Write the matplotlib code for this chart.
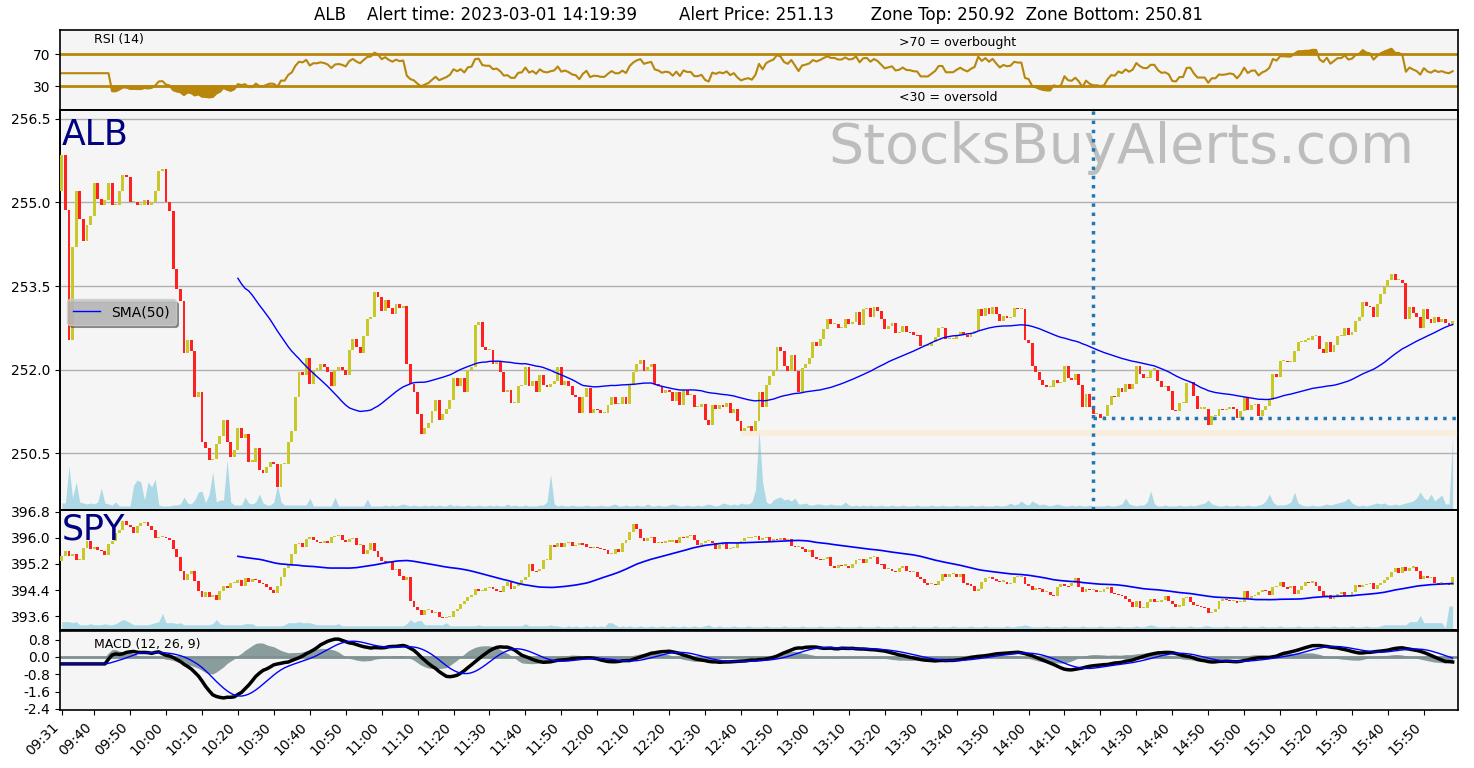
import numpy as np
import pandas as pd
import matplotlib
matplotlib.use("Agg")
import matplotlib.pyplot as plt

# ---- data: 1 minute bars, 09:31 .. 15:58 ----
session_start = "2023-03-01 09:31"

alb_first_open = 255.20
alb_close = [
    255.86, 254.87, 252.54, 254.20, 255.20, 254.70, 254.30, 254.60, 254.75, 255.35,
    255.07, 254.95, 255.05, 255.35, 254.96, 254.96, 255.20, 255.50, 255.45, 255.00,
    255.00, 254.95, 254.95, 255.05, 254.95, 255.00, 255.20, 255.57, 255.60, 255.00,
    254.85, 253.80, 253.45, 253.23, 252.30, 252.53, 252.33, 251.50, 251.60, 250.70,
    250.60, 250.37, 250.40, 250.66, 250.80, 251.10, 250.70, 250.43, 250.55, 250.95,
    250.78, 250.85, 250.35, 250.35, 250.60, 250.20, 250.15, 250.26, 250.34, 250.30,
    249.90, 250.30, 250.30, 250.70, 250.90, 251.50, 251.95, 251.90, 252.20, 251.75,
    252.00, 252.00, 252.10, 252.05, 251.95, 251.70, 252.00, 252.05, 252.00, 251.90,
    252.35, 252.55, 252.40, 252.30, 252.60, 252.90, 252.95, 253.40, 253.30, 253.05,
    253.25, 253.10, 253.00, 253.18, 253.10, 253.15, 252.10, 251.75, 251.60, 251.20,
    250.85, 250.95, 251.05, 251.25, 251.45, 251.10, 251.20, 251.30, 251.45, 251.85,
    251.70, 251.85, 251.60, 252.00, 252.05, 252.80, 252.85, 252.40, 252.35, 252.35,
    252.10, 252.15, 251.95, 251.60, 251.63, 251.40, 251.40, 251.70, 251.73, 252.05,
    251.70, 251.80, 251.60, 251.90, 251.73, 251.68, 251.75, 251.80, 252.05, 251.73,
    251.80, 251.70, 251.55, 251.50, 251.22, 251.50, 251.67, 251.22, 251.30, 251.28,
    251.22, 251.22, 251.37, 251.50, 251.38, 251.38, 251.50, 251.38, 251.73, 251.95,
    252.10, 252.18, 251.98, 252.05, 252.10, 251.75, 251.70, 251.58, 251.63, 251.60,
    251.43, 251.60, 251.37, 251.63, 251.55, 251.55, 251.33, 251.33, 251.38, 251.10,
    251.00, 251.37, 251.30, 251.37, 251.32, 251.40, 251.22, 251.30, 251.07, 250.90,
    250.95, 250.98, 250.90, 251.07, 251.60, 251.33, 251.73, 251.88, 252.00, 252.40,
    252.33, 252.06, 251.97, 252.27, 251.97, 251.60, 252.03, 252.10, 252.20, 252.50,
    252.42, 252.55, 252.73, 252.90, 252.82, 252.82, 252.75, 252.75, 252.90, 252.82,
    252.85, 253.03, 252.80, 253.08, 253.10, 252.95, 253.13, 253.05, 252.90, 252.73,
    252.78, 252.83, 252.65, 252.68, 252.78, 252.68, 252.67, 252.63, 252.62, 252.42,
    252.42, 252.42, 252.50, 252.58, 252.75, 252.75, 252.55, 252.55, 252.55, 252.62,
    252.68, 252.62, 252.58, 252.65, 252.70, 253.08, 252.97, 253.10, 253.00, 253.13,
    253.00, 252.87, 252.97, 252.93, 252.95, 253.10, 253.08, 253.08, 252.54, 252.48,
    252.06, 251.95, 251.82, 251.73, 251.68, 251.68, 251.82, 251.76, 251.78, 252.06,
    251.85, 251.82, 251.92, 251.72, 251.32, 251.56, 251.32, 251.20, 251.20, 251.14,
    251.16, 251.37, 251.53, 251.50, 251.67, 251.60, 251.75, 251.65, 251.74, 252.06,
    251.93, 251.85, 251.85, 252.00, 252.00, 251.80, 251.68, 251.70, 251.62, 251.28,
    251.25, 251.40, 251.40, 251.76, 251.77, 251.52, 251.30, 251.30, 251.30, 251.00,
    251.16, 251.16, 251.30, 251.28, 251.30, 251.33, 251.30, 251.13, 251.26, 251.50,
    251.28, 251.37, 251.38, 251.17, 251.28, 251.34, 251.46, 251.92, 251.86, 252.15,
    252.15, 252.14, 252.14, 252.33, 252.50, 252.50, 252.54, 252.54, 252.60, 252.60,
    252.37, 252.30, 252.50, 252.32, 252.45, 252.60, 252.60, 252.75, 252.63, 252.68,
    252.88, 252.95, 253.22, 253.15, 253.13, 252.95, 253.17, 253.35, 253.48, 253.60,
    253.72, 253.60, 253.60, 253.55, 252.90, 253.12, 253.02, 252.94, 252.75, 253.08,
    252.90, 252.83, 252.95, 252.86, 252.90, 252.83, 252.80, 252.88,
]
alb_vol = [
    7, 7, 44, 12, 28, 8, 7, 6, 7, 6, 8, 22, 7, 6, 5, 8, 4, 4, 4, 4,
    25, 30, 28, 10, 28, 23, 31, 5, 4, 4, 4, 5, 5, 6, 13, 7, 6, 10, 18, 19,
    7, 16, 38, 8, 10, 10, 50, 8, 5, 5, 5, 13, 7, 6, 8, 16, 7, 5, 5, 8,
    25, 8, 5, 5, 5, 5, 5, 5, 5, 12, 4, 4, 4, 4, 4, 4, 13, 4, 4, 4,
    4, 4, 4, 4, 4, 11, 4, 4, 4, 4, 5, 4, 5, 4, 5, 6, 5, 4, 5, 4,
    4, 5, 4, 5, 4, 5, 4, 4, 6, 4, 5, 4, 4, 5, 4, 4, 5, 4, 4, 5,
    4, 5, 4, 4, 6, 4, 5, 4, 4, 5, 4, 4, 4, 5, 5, 8, 36, 6, 4, 5,
    4, 4, 5, 4, 4, 4, 5, 4, 4, 4, 5, 4, 4, 5, 6, 4, 4, 5, 4, 4,
    5, 4, 4, 6, 4, 4, 5, 4, 4, 5, 6, 5, 4, 4, 5, 4, 4, 5, 4, 5,
    6, 5, 4, 5, 7, 6, 5, 6, 5, 7, 6, 6, 8, 20, 80, 28, 8, 6, 10, 12,
    13, 10, 11, 9, 12, 6, 6, 7, 5, 5, 6, 6, 5, 5, 6, 5, 5, 5, 8, 5,
    4, 5, 4, 5, 4, 5, 4, 4, 5, 4, 4, 5, 4, 4, 5, 4, 4, 4, 5, 4,
    4, 4, 5, 4, 4, 5, 4, 4, 4, 5, 4, 4, 4, 5, 4, 4, 5, 4, 4, 4,
    5, 4, 4, 5, 7, 5, 6, 9, 6, 5, 9, 7, 5, 6, 5, 4, 5, 6, 5, 4,
    4, 5, 4, 5, 4, 4, 5, 4, 4, 4, 4, 5, 4, 4, 5, 6, 12, 6, 5, 4,
    5, 5, 8, 19, 6, 4, 4, 5, 4, 4, 4, 5, 4, 4, 5, 4, 5, 6, 7, 10,
    6, 5, 4, 4, 5, 4, 4, 5, 4, 4, 5, 4, 4, 5, 6, 9, 16, 8, 5, 5,
    5, 6, 8, 18, 7, 5, 4, 4, 5, 4, 4, 5, 6, 5, 6, 7, 8, 9, 12, 7,
    5, 4, 5, 4, 5, 6, 7, 6, 7, 5, 5, 6, 5, 6, 7, 8, 9, 12, 18, 12,
    10, 16, 9, 12, 15, 6, 6, 73,
]

spy_first_open = 395.30
spy_close = [
    395.45, 395.60, 395.45, 395.52, 395.32, 395.32, 395.68, 395.90, 395.67, 395.72,
    395.62, 395.60, 395.48, 395.80, 395.90, 396.16, 396.23, 396.52, 396.40, 396.34,
    396.16, 396.37, 396.47, 396.50, 396.37, 396.23, 396.00, 396.03, 396.03, 396.00,
    395.93, 395.65, 395.40, 394.99, 394.70, 394.90, 394.97, 394.67, 394.38, 394.20,
    394.33, 394.17, 394.25, 394.10, 394.38, 394.53, 394.46, 394.60, 394.63, 394.70,
    394.53, 394.77, 394.66, 394.73, 394.70, 394.63, 394.58, 394.48, 394.40, 394.30,
    394.53, 394.79, 395.09, 395.20, 395.50, 395.80, 395.86, 395.72, 395.96, 396.03,
    395.93, 395.89, 395.86, 395.90, 395.86, 396.03, 396.06, 396.09, 395.93, 395.89,
    395.96, 396.01, 395.78, 395.79, 395.50, 395.62, 395.86, 395.60, 395.40, 395.30,
    395.25, 395.25, 395.00, 395.04, 394.84, 394.70, 394.80, 394.07, 393.89, 393.77,
    393.64, 393.77, 393.79, 393.68, 393.71, 393.56, 393.54, 393.56, 393.58, 393.74,
    393.82, 393.97, 394.07, 394.20, 394.25, 394.43, 394.38, 394.38, 394.46, 394.48,
    394.43, 394.38, 394.33, 394.53, 394.66, 394.43, 394.53, 394.60, 394.70, 394.80,
    395.21, 394.99, 394.97, 395.04, 395.32, 395.32, 395.79, 395.72, 395.86, 395.72,
    395.83, 395.88, 395.76, 395.79, 395.83, 395.81, 395.72, 395.68, 395.72, 395.70,
    395.65, 395.62, 395.50, 395.52, 395.65, 395.58, 395.86, 395.94, 396.19, 396.42,
    396.27, 395.99, 395.91, 395.99, 396.03, 395.83, 395.89, 395.86, 395.89, 395.89,
    395.93, 395.86, 396.03, 396.01, 396.06, 396.09, 395.93, 395.79, 395.86, 395.91,
    395.91, 395.83, 395.65, 395.79, 395.86, 395.65, 395.70, 395.70, 395.86, 395.91,
    395.99, 396.01, 396.03, 396.06, 395.93, 396.01, 396.03, 395.91, 395.96, 395.93,
    396.01, 395.93, 395.96, 395.76, 395.72, 395.72, 395.65, 395.58, 395.62, 395.40,
    395.35, 395.32, 395.35, 395.40, 395.14, 395.07, 395.17, 395.15, 395.15, 395.07,
    395.21, 395.32, 395.35, 395.24, 395.35, 395.40, 395.42, 395.21, 395.19, 395.04,
    395.04, 394.99, 394.94, 395.07, 395.14, 394.99, 394.94, 394.94, 394.80, 394.73,
    394.60, 394.58, 394.58, 394.56, 394.68, 394.89, 394.81, 394.89, 394.89, 394.79,
    394.89, 394.60, 394.58, 394.53, 394.38, 394.43, 394.66, 394.77, 394.81, 394.74,
    394.68, 394.66, 394.66, 394.58, 394.62, 394.79, 394.79, 394.79, 394.58, 394.53,
    394.40, 394.46, 394.43, 394.33, 394.33, 394.26, 394.22, 394.48, 394.58, 394.53,
    394.52, 394.63, 394.77, 394.48, 394.33, 394.43, 394.40, 394.40, 394.33, 394.33,
    394.43, 394.48, 394.30, 394.28, 394.25, 394.22, 394.12, 394.02, 393.89, 394.05,
    393.85, 393.85, 394.02, 394.12, 394.02, 394.04, 394.09, 394.22, 394.07, 393.97,
    393.89, 393.92, 394.15, 394.17, 394.02, 393.95, 393.92, 393.89, 393.85, 393.70,
    393.71, 393.82, 394.07, 394.12, 394.09, 394.05, 394.05, 394.02, 394.04, 394.36,
    394.15, 394.22, 394.25, 394.33, 394.40, 394.38, 394.25, 394.48, 394.53, 394.66,
    394.48, 394.46, 394.53, 394.28, 394.40, 394.53, 394.66, 394.63, 394.66, 394.53,
    394.36, 394.22, 394.25, 394.12, 394.22, 394.29, 394.33, 394.22, 394.25, 394.33,
    394.56, 394.48, 394.56, 394.58, 394.60, 394.43, 394.56, 394.60, 394.70, 394.81,
    394.94, 395.07, 394.91, 395.11, 394.99, 395.09, 395.11, 394.99, 394.73, 394.84,
    394.77, 394.79, 394.63, 394.60, 394.63, 394.60, 394.56, 394.79,
]
spy_vol = [
    8, 8, 8, 7, 8, 5, 5, 5, 6, 5, 5, 5, 6, 5, 5, 6, 8, 10, 9, 7,
    5, 5, 5, 5, 5, 6, 7, 8, 16, 7, 7, 7, 6, 7, 5, 5, 5, 5, 5, 5,
    5, 5, 6, 10, 6, 5, 5, 5, 5, 5, 5, 6, 6, 6, 4, 4, 4, 4, 4, 4,
    4, 4, 5, 7, 7, 7, 8, 7, 7, 7, 6, 5, 5, 5, 5, 5, 5, 6, 4, 4,
    4, 4, 4, 4, 4, 4, 4, 4, 4, 4, 4, 4, 4, 4, 4, 4, 6, 10, 7, 9,
    9, 5, 5, 5, 5, 5, 5, 7, 4, 4, 4, 4, 4, 4, 4, 4, 5, 4, 4, 4,
    4, 4, 4, 4, 4, 4, 4, 4, 4, 6, 4, 4, 4, 4, 4, 4, 5, 4, 4, 3,
    3, 4, 3, 4, 3, 3, 4, 3, 4, 3, 4, 3, 7, 7, 5, 3, 4, 3, 4, 3,
    3, 4, 3, 3, 4, 3, 3, 4, 3, 3, 4, 3, 3, 4, 3, 3, 4, 3, 3, 4,
    5, 3, 3, 4, 3, 3, 3, 4, 3, 3, 3, 4, 3, 3, 3, 3, 4, 3, 3, 3,
    3, 4, 3, 3, 3, 3, 4, 3, 3, 3, 3, 4, 3, 3, 3, 3, 4, 3, 3, 3,
    3, 3, 4, 3, 3, 3, 3, 4, 3, 3, 3, 3, 4, 3, 3, 3, 3, 4, 3, 3,
    3, 3, 3, 4, 3, 3, 3, 3, 4, 3, 3, 3, 3, 4, 3, 3, 3, 4, 3, 3,
    3, 3, 3, 4, 3, 3, 4, 4, 5, 4, 3, 3, 3, 3, 4, 3, 3, 3, 3, 4,
    3, 3, 3, 3, 4, 3, 3, 3, 3, 4, 3, 3, 3, 3, 4, 3, 3, 3, 3, 4,
    3, 3, 4, 5, 4, 3, 3, 3, 3, 4, 3, 3, 3, 3, 4, 3, 3, 3, 4, 4,
    3, 3, 3, 3, 4, 3, 3, 3, 3, 4, 3, 3, 3, 3, 4, 3, 3, 3, 3, 4,
    3, 3, 3, 3, 4, 3, 3, 3, 3, 4, 3, 3, 3, 3, 4, 3, 3, 3, 3, 4,
    3, 3, 3, 4, 3, 3, 3, 4, 5, 5, 5, 5, 5, 5, 5, 8, 8, 8, 14, 7,
    7, 7, 7, 7, 7, 2, 23, 23,
]

alert_bar = 287
alert_price = 251.13
zone_top = 250.92
zone_bottom = 250.81
zone_start_bar = 189
rsi_warmup = 46
macd_warmup = -0.32

title = ("ALB    Alert time: 2023-03-01 14:19:39        Alert Price: 251.13"
         "       Zone Top: 250.92  Zone Bottom: 250.81")

UP = "#c8c828"
DOWN = "#ff2020"
BG = "#f5f5f5"
GOLD = "#b8860b"

alb = pd.Series(alb_close)
spy = pd.Series(spy_close)
n = len(alb)
x = np.arange(n)
times = pd.date_range(session_start, periods=n, freq="min")


def draw_candles(ax, first_open, closes, min_h):
    c = np.asarray(closes)
    o = np.concatenate([[first_open], c[:-1]])
    body = c - o
    body = np.where(np.abs(body) < min_h, np.where(body < 0, -min_h, min_h), body)
    colors = np.where(c >= o, UP, DOWN)
    ax.bar(x, body, bottom=o, width=0.8, color=colors, linewidth=0, zorder=3)


def add_volume(ax, vol):
    axv = ax.twinx()
    axv.fill_between(x, 0, vol, color="lightblue", linewidth=0)
    axv.set_ylim(0, max(vol) * 5)
    axv.set_yticks([])
    axv.patch.set_visible(True)
    axv.set_facecolor(BG)
    ax.set_zorder(axv.get_zorder() + 1)
    ax.patch.set_visible(False)
    for s in axv.spines.values():
        s.set_linewidth(1.2)
    return axv


# indicators: Wilder RSI, MACD built from simple moving averages
delta = alb.diff()
gain = delta.clip(lower=0).ewm(alpha=1 / 14, adjust=False, min_periods=14).mean()
loss = (-delta.clip(upper=0)).ewm(alpha=1 / 14, adjust=False, min_periods=14).mean()
rsi = (100 - 100 / (1 + gain / loss)).fillna(rsi_warmup)

macd = alb.rolling(12, min_periods=1).mean() - alb.rolling(26, min_periods=1).mean()
macd.iloc[:13] = macd_warmup
signal = macd.rolling(9, min_periods=1).mean()
hist = macd - signal

alb_sma = alb.rolling(50).mean()
spy_sma = spy.rolling(50).mean()

# layout in pixels of a 1474x768 figure
fig = plt.figure(figsize=(14.74, 7.68), dpi=100)
W, H = 1474.0, 768.0


def panel(top, bottom):
    return fig.add_axes([60 / W, 1 - bottom / H, 1398 / W, (bottom - top) / H])


ax_rsi = panel(30, 110)
ax_alb = panel(110, 510)
ax_spy = panel(510, 630)
ax_macd = panel(631, 710)

for ax in (ax_rsi, ax_alb, ax_spy, ax_macd):
    ax.set_facecolor(BG)
    ax.set_xlim(-0.5, n + 0.5)
    ax.tick_params(labelsize=10)
    for s in ax.spines.values():
        s.set_linewidth(1.2)
    if ax is not ax_macd:
        ax.tick_params(axis="x", bottom=False, labelbottom=False)

# RSI
ax_rsi.plot(x, rsi, color=GOLD, lw=1.5)
ax_rsi.axhline(70, color=GOLD, lw=2)
ax_rsi.axhline(30, color=GOLD, lw=2)
ax_rsi.fill_between(x, rsi, 30, where=rsi < 30, color=GOLD, interpolate=True)
ax_rsi.fill_between(x, rsi, 70, where=rsi > 70, color=GOLD, interpolate=True)
ax_rsi.set_ylim(0, 100)
ax_rsi.set_yticks([30, 70])
ax_rsi.text(0.024, 0.875, "RSI (14)", transform=ax_rsi.transAxes, fontsize=9, va="center")
ax_rsi.text(0.6, 0.84, ">70 = overbought", transform=ax_rsi.transAxes, fontsize=9, va="center")
ax_rsi.text(0.6, 0.156, "<30 = oversold", transform=ax_rsi.transAxes, fontsize=9, va="center")
ax_rsi.set_title(title, fontsize=12, pad=7)

# ALB price
add_volume(ax_alb, alb_vol)
ax_alb.grid(axis="y", color="#b0b0b0", lw=1)
ax_alb.set_axisbelow(True)
ax_alb.fill_between([zone_start_bar, n + 0.5], zone_bottom, zone_top,
                    color="bisque", alpha=0.45, linewidth=0, zorder=1)
draw_candles(ax_alb, alb_first_open, alb_close, 0.02)
ax_alb.plot(x, alb_sma, color="blue", lw=1, label="SMA(50)", zorder=4)
ax_alb.axvline(alert_bar, color="#1f77b4", ls=":", lw=2.5, zorder=5)
ax_alb.hlines(alert_price, alert_bar, n + 0.5, color="#1f77b4", ls=":", lw=2.5, zorder=5)
ax_alb.set_ylim(249.48, 256.66)
ax_alb.set_yticks([250.5, 252.0, 253.5, 255.0, 256.5])
ax_alb.yaxis.set_major_formatter(matplotlib.ticker.FormatStrFormatter("%.1f"))
ax_alb.text(0.0015, 0.9125, "ALB", transform=ax_alb.transAxes, fontsize=25,
            color="navy", va="baseline")
ax_alb.text(0.969, 0.8675, "StocksBuyAlerts.com", transform=ax_alb.transAxes,
            fontsize=40, color="#bdbdbd", ha="right", va="baseline", zorder=2)
leg = ax_alb.legend(loc="center left", bbox_to_anchor=(0.0, 0.495), fontsize=10,
                    fancybox=True, shadow=True, facecolor="#c3c3c3", framealpha=0.8)

# SPY price
add_volume(ax_spy, spy_vol)
draw_candles(ax_spy, spy_first_open, spy_close, 0.035)
ax_spy.plot(x, spy_sma, color="blue", lw=1.2, zorder=4)
ax_spy.set_ylim(393.17, 396.86)
ax_spy.set_yticks([393.6, 394.4, 395.2, 396.0, 396.8])
ax_spy.yaxis.set_major_formatter(matplotlib.ticker.FormatStrFormatter("%.1f"))
ax_spy.text(0.0015, 0.75, "SPY", transform=ax_spy.transAxes, fontsize=25,
            color="navy", va="baseline")

# MACD
ax_macd.fill_between(x, hist, 0, color="#4f6f6f", alpha=0.65, linewidth=0)
ax_macd.axhline(0, color="#7f9090", lw=2)
ax_macd.plot(x, macd, color="black", lw=2.5)
ax_macd.plot(x, signal, color="blue", lw=1)
ax_macd.set_ylim(-2.45, 1.2)
ax_macd.set_yticks([-2.4, -1.6, -0.8, 0.0, 0.8])
ax_macd.yaxis.set_major_formatter(matplotlib.ticker.FormatStrFormatter("%.1f"))
ax_macd.text(0.024, 0.835, "MACD (12, 26, 9)", transform=ax_macd.transAxes,
             fontsize=9, va="center")

tick_pos = [i for i, t in enumerate(times) if i == 0 or t.minute % 10 == 0]
ax_macd.set_xticks(tick_pos)
ax_macd.set_xticklabels([times[i].strftime("%H:%M") for i in tick_pos],
                        rotation=45, ha="right", fontsize=10)

fig.savefig("out.png", dpi=100)
